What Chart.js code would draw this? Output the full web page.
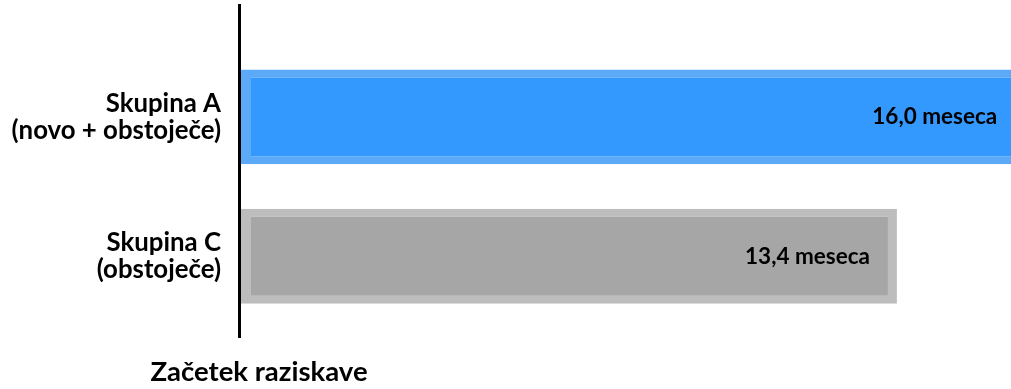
<!DOCTYPE html>
<html>
<head>
<meta charset="utf-8">
<script src="https://cdn.jsdelivr.net/npm/chart.js@4"></script>
<style>
  html, body { margin: 0; padding: 0; background: #fff; }
  #wrap { width: 1011px; height: 389px; position: relative; }
</style>
</head>
<body>
<div id="wrap"><canvas id="chart"></canvas></div>
<script>
const groups = [['Skupina A', '(novo + obstoječe)'], ['Skupina C', '(obstoječe)']];
const months = [16.0, 13.4];
const valueLabels = ['16,0 meseca', '13,4 meseca'];
const axisTitle = 'Začetek raziskave';

const fillColors = ['#3399ff', '#a6a6a6'];
const edgeColors = ['#5ba9f7', '#bdbdbd'];

const FONT = 'Lato, Carlito, Calibri, sans-serif';

// draws the vertical start line, value labels and the bottom caption
const extras = {
  id: 'extras',
  afterDatasetsDraw(chart) {
    const ctx = chart.ctx;
    const area = chart.chartArea;
    const x0 = chart.scales.x.getPixelForValue(0);
    ctx.save();
    ctx.strokeStyle = '#000';
    ctx.lineWidth = 3;
    ctx.beginPath();
    ctx.moveTo(x0 - 1.5, area.top - 43);
    ctx.lineTo(x0 - 1.5, area.bottom + 12);
    ctx.stroke();

    ctx.fillStyle = '#000';
    ctx.font = 'bold 22.5px ' + FONT;
    ctx.textAlign = 'right';
    ctx.textBaseline = 'middle';
    const meta = chart.getDatasetMeta(0);
    meta.data.forEach((bar, i) => {
      const end = chart.scales.x.getPixelForValue(months[i]);
      ctx.fillText(valueLabels[i], end - 27, bar.y);
    });

    ctx.font = 'bold 27.5px ' + FONT;
    ctx.textAlign = 'center';
    ctx.fillText(axisTitle, x0 + 18, area.bottom + 46);
    ctx.restore();
  }
};

new Chart(document.getElementById('chart'), {
  type: 'bar',
  data: {
    labels: groups,
    datasets: [{
      data: months,
      backgroundColor: fillColors,
      borderColor: edgeColors,
      borderWidth: { left: 10, top: 8, bottom: 8, right: 9 },
      borderSkipped: false,
      barPercentage: 0.68,
      categoryPercentage: 1
    }]
  },
  options: {
    indexAxis: 'y',
    responsive: true,
    maintainAspectRatio: false,
    animation: false,
    layout: { padding: { top: 47, bottom: 63, left: 0, right: 0 } },
    plugins: {
      legend: { display: false },
      tooltip: { enabled: false }
    },
    scales: {
      x: {
        display: false,
        min: 0,
        max: 15.73
      },
      y: {
        afterFit(s) { s.width = 241; },
        grid: { display: false, drawTicks: false },
        border: { display: false },
        ticks: {
          padding: 20,
          color: '#000',
          font: { family: FONT, size: 25.8, weight: 'bold', lineHeight: 1.05 }
        }
      }
    }
  },
  plugins: [extras]
});
</script>
</body>
</html>
